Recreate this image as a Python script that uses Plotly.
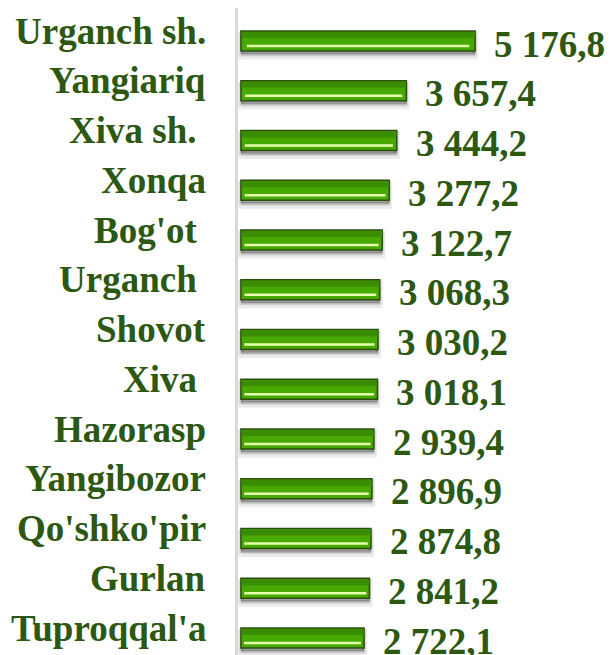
import plotly.graph_objects as go

categories = ["Urganch sh.", "Yangiariq", "Xiva sh. ", "Xonqa", "Bog'ot ", "Urganch ",
              "Shovot", "Xiva ", "Hazorasp", "Yangibozor", "Qo'shko'pir", "Gurlan", "Tuproqqal'a"]
values = [5176.8, 3657.4, 3444.2, 3277.2, 3122.7, 3068.3, 3030.2, 3018.1,
          2939.4, 2896.9, 2874.8, 2841.2, 2722.1]

def fmt(v):
    return f"{v:,.1f}".replace(",", " ").replace(".", ",")

value_labels = [fmt(v) for v in values]

TEXT = "#2d5812"
FONT = "Liberation Serif"

fig = go.Figure()

# soft shadow layers
fig.add_trace(go.Bar(y=categories, x=values, orientation="h", offset=-0.13, width=0.44,
                     marker=dict(color="rgba(0,0,0,0.10)", line=dict(color="rgba(0,0,0,0.08)", width=6)),
                     hoverinfo="skip"))
fig.add_trace(go.Bar(y=categories, x=values, orientation="h", offset=-0.14, width=0.40,
                     marker=dict(color="rgba(0,0,0,0.28)", line=dict(color="rgba(0,0,0,0.12)", width=3)),
                     hoverinfo="skip"))
# main bar
fig.add_trace(go.Bar(y=categories, x=values, orientation="h", offset=-0.2, width=0.4,
                     marker=dict(color="#47a800", line=dict(color="#2b4d10", width=1.5)),
                     hoverinfo="skip"))
# darker upper band
fig.add_trace(go.Bar(y=categories, x=[v * 0.995 for v in values], base=[v * 0.004 for v in values],
                     orientation="h", offset=-0.18, width=0.12,
                     marker=dict(color="#3a8c00", line=dict(width=0)), hoverinfo="skip"))
# highlight line
fig.add_trace(go.Bar(y=categories, x=[v * 0.95 for v in values], base=[v * 0.025 for v in values],
                     orientation="h", offset=0.075, width=0.05,
                     marker=dict(color="#e4ffae", line=dict(width=0)), hoverinfo="skip"))

annotations = []
for c, v, t in zip(categories, values, value_labels):
    annotations.append(dict(x=v, y=c, xref="x", yref="y", text=t, showarrow=False,
                            xanchor="left", yanchor="middle", xshift=17, yshift=-3,
                            font=dict(family=FONT, size=37, color=TEXT, weight="bold")))
    annotations.append(dict(x=0, y=c, xref="paper", yref="y", text=c.replace(" ", "&nbsp;") if c.endswith(" ") else c,
                            showarrow=False, xanchor="right", yanchor="middle", xshift=-30, yshift=10,
                            font=dict(family=FONT, size=37, color=TEXT, weight="bold")))

fig.update_layout(
    width=605, height=647,
    margin=dict(l=230, r=0, t=0, b=0, autoexpand=False),
    paper_bgcolor="white", plot_bgcolor="white",
    barmode="overlay", showlegend=False,
    xaxis=dict(range=[-65, 8225], visible=False, fixedrange=True),
    yaxis=dict(range=[12.3417, -0.6633], showticklabels=False, showgrid=False, zeroline=False,
               showline=True, linecolor="#d9d9d9", linewidth=3, ticks="", fixedrange=True),
    annotations=annotations,
)

fig.write_html("out.html")
